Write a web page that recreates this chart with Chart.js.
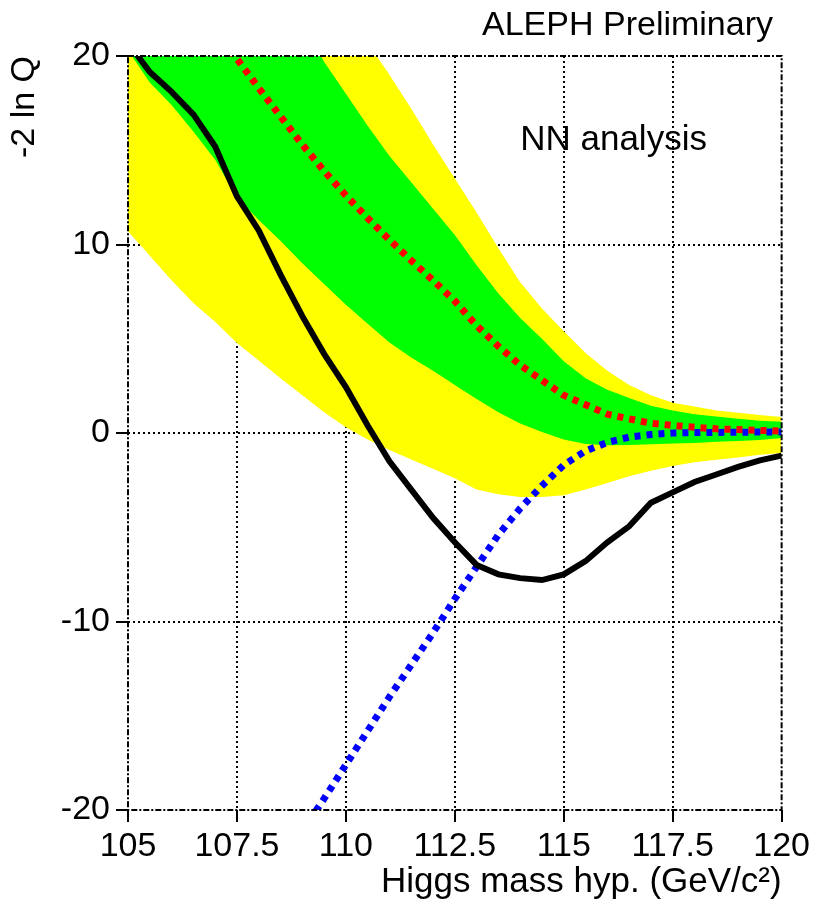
<!DOCTYPE html>
<html>
<head>
<meta charset="utf-8">
<script src="https://cdn.jsdelivr.net/npm/chart.js@4.4.1/dist/chart.umd.min.js"></script>
<style>
  html, body { margin: 0; padding: 0; background: #fff; }
  #wrap { width: 814px; height: 905px; }
</style>
</head>
<body>
<div id="wrap"><canvas id="c" width="814" height="905"></canvas></div>
<script>
// Higgs mass hypotheses (GeV/c^2)
const mass = [105, 105.5, 106, 106.5, 107, 107.5, 108, 108.5, 109, 109.5, 110, 110.5,
              111, 111.5, 112, 112.5, 113, 113.5, 114, 114.5, 115, 115.5, 116, 116.5,
              117, 117.5, 118, 118.5, 119, 119.5, 120];

// -2 ln Q observed
const observed = [20.7, 19.15, 18.1, 16.9, 15.2, 12.55, 10.75, 8.4, 6.2, 4.2, 2.44, 0.4,
                  -1.5, -3.0, -4.5, -5.8, -7.0, -7.5, -7.7, -7.8, -7.5, -6.8, -5.8, -4.95,
                  -3.7, -3.15, -2.6, -2.2, -1.8, -1.45, -1.2];

// expected, background only
const expBkg = [null, null, null, null, 21.3, 19.85, 18.3, 16.8, 15.3, 13.9, 12.6, 11.4,
                10.25, 9.15, 8.1, 7.0, 5.7, 4.6, 3.6, 2.8, 2.0, 1.5, 1.0, 0.75,
                0.52, 0.4, 0.3, 0.22, 0.18, 0.14, 0.1];

// expected, signal + background
const expSig = [null, null, null, null, null, null, null, null, -21.1, -19.4, -17.6, -15.8,
                -14.0, -12.3, -10.6, -8.8, -7.1, -5.4, -4.0, -2.8, -1.7, -0.95, -0.5, -0.22,
                -0.08, 0.0, 0.02, 0.03, 0.04, 0.05, 0.05];

// background-only bands: +/-1 sigma (green) and +/-2 sigma (yellow)
const band1Up = [35, 33.5, 32, 30.4, 28.8, 27.2, 25.6, 23.8, 21.6, 19.7, 18.0, 16.3,
                 14.7, 13.3, 11.9, 10.5, 8.9, 7.4, 6.1, 5.0, 3.8, 2.9, 2.3, 1.86,
                 1.45, 1.2, 1.0, 0.88, 0.75, 0.65, 0.6];
const band1Lo = [20.3, 18.6, 17.4, 16.0, 14.5, 12.5, 11.3, 10.2, 9.0, 7.9, 6.8, 5.8,
                 4.8, 4.0, 3.3, 2.55, 1.8, 1.1, 0.5, 0.05, -0.35, -0.58, -0.65, -0.64,
                 -0.6, -0.56, -0.53, -0.47, -0.42, -0.37, -0.27];
const band2Up = [40, 38.2, 36.4, 34.6, 32.8, 31, 29.2, 27.4, 25.6, 23.8, 22.2, 20.7,
                 19.0, 17.2, 15.3, 13.5, 11.7, 9.8, 8.0, 6.6, 5.4, 4.24, 3.3, 2.55,
                 2.0, 1.6, 1.4, 1.2, 1.07, 0.95, 0.85];
const band2Lo = [10.7, 9.4, 8.1, 6.9, 5.9, 4.77, 3.85, 2.9, 2.0, 1.1, 0.3, -0.35,
                 -0.9, -1.4, -1.9, -2.4, -3.0, -3.25, -3.4, -3.4, -3.3, -3.0, -2.65, -2.3,
                 -2.0, -1.75, -1.55, -1.42, -1.3, -1.15, -1.06];

// axis ticks
const xTicks = [105, 107.5, 110, 112.5, 115, 117.5, 120];
const xTickLabels = ['105', '107.5', '110', '112.5', '115', '117.5', '120'];
const yTicks = [-20, -10, 0, 10, 20];
const yTickLabels = ['-20', '-10', '0', '10', '20'];

const FONT = 'Liberation Sans, Arial, Helvetica, sans-serif';
Chart.defaults.font.family = FONT;
Chart.defaults.color = '#000';

const pts = ys => mass.map((m, i) => ({ x: m, y: ys[i] }));
const NONE = 'rgba(0,0,0,0)';

const edge = (ys, order, fill, color) => ({
  data: pts(ys), order, fill: fill === undefined ? false : fill,
  backgroundColor: color || NONE, borderColor: NONE, borderWidth: 0,
  pointRadius: 0, tension: 0, clip: 0
});

// dash-dot frame around the plotting area
const framePlugin = {
  id: 'frame',
  afterDraw(chart) {
    const { ctx, chartArea: a } = chart;
    ctx.save();
    ctx.strokeStyle = '#000';
    ctx.lineWidth = 2;
    ctx.setLineDash([6, 2, 2, 2]);
    ctx.strokeRect(a.left, a.top, a.right - a.left, a.bottom - a.top);
    ctx.restore();
  }
};

// header and in-plot label
const labelsPlugin = {
  id: 'labels',
  afterDraw(chart) {
    const { ctx, scales } = chart;
    ctx.save();
    ctx.fillStyle = '#000';
    ctx.textBaseline = 'alphabetic';
    ctx.font = '34px ' + FONT;
    ctx.textAlign = 'right';
    ctx.fillText('ALEPH Preliminary', 773, 35);
    ctx.font = '35px ' + FONT;
    ctx.textAlign = 'left';
    ctx.fillText('NN analysis', scales.x.getPixelForValue(114.0), scales.y.getPixelForValue(15.0));
    ctx.restore();
  }
};

const gridColor = c => (c.tick && (c.tick.value === 105 || c.tick.value === 120 ||
                                   c.tick.value === -20 || c.tick.value === 20)) ? NONE : '#000';

new Chart(document.getElementById('c'), {
  type: 'line',
  data: {
    datasets: [
      edge(band2Up, 6, 1, '#ffff00'),
      edge(band2Lo, 7),
      edge(band1Up, 4, 3, '#00ff00'),
      edge(band1Lo, 5),
      { data: pts(expSig), order: 2, borderColor: '#0000ff', borderWidth: 7,
        borderDash: [6, 6], borderCapStyle: 'butt', pointRadius: 0, tension: 0,
        fill: false, clip: 0, spanGaps: false },
      { data: pts(expBkg), order: 1, borderColor: '#ff0000', borderWidth: 7,
        borderDash: [6, 6], borderCapStyle: 'butt', pointRadius: 0, tension: 0,
        fill: false, clip: 0, spanGaps: false },
      { data: pts(observed), order: 0, borderColor: '#000', borderWidth: 6,
        pointRadius: 0, tension: 0, fill: false, clip: 0 }
    ]
  },
  options: {
    responsive: false,
    animation: false,
    devicePixelRatio: 1,
    layout: { padding: { top: 56, right: 31, left: 0, bottom: 0 } },
    plugins: { legend: { display: false }, tooltip: { enabled: false } },
    scales: {
      x: {
        type: 'linear', position: 'bottom', min: 105, max: 120, z: 1,
        afterBuildTicks: s => { s.ticks = xTicks.map(v => ({ value: v })); },
        afterFit: s => { s.height = 95; },
        ticks: {
          callback: v => xTickLabels[xTicks.indexOf(v)],
          font: { size: 34 }, color: '#000', padding: 4, maxRotation: 0, autoSkip: false
        },
        grid: { color: gridColor, lineWidth: 2, tickLength: 12, tickColor: '#000', tickWidth: 2 },
        border: { display: false, dash: [2, 3] },
        title: {
          display: true, text: 'Higgs mass hyp. (GeV/c²)', align: 'end',
          font: { size: 35 }, color: '#000', padding: { top: 0, bottom: 2 }
        }
      },
      y: {
        type: 'linear', position: 'left', min: -20, max: 20, z: 1,
        afterBuildTicks: s => { s.ticks = yTicks.map(v => ({ value: v })); },
        afterFit: s => { s.width = 128; },
        ticks: {
          callback: v => yTickLabels[yTicks.indexOf(v)],
          font: { size: 34 }, color: '#000', padding: 6
        },
        grid: { color: gridColor, lineWidth: 2, tickLength: 12, tickColor: '#000', tickWidth: 2 },
        border: { display: false, dash: [2, 3] },
        title: {
          display: true, text: '-2 ln Q', align: 'end',
          font: { size: 34 }, color: '#000', padding: { top: 4, bottom: 0 }
        }
      }
    }
  },
  plugins: [framePlugin, labelsPlugin]
});
</script>
</body>
</html>
